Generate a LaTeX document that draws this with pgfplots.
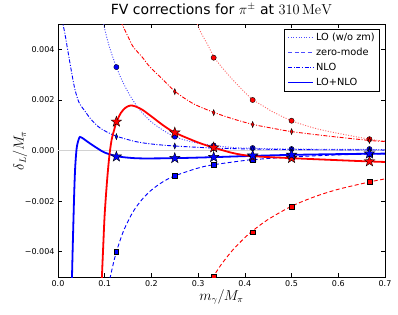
\documentclass[border=0pt]{standalone}
\usepackage[no-math]{fontspec}
\setmainfont{DejaVu Sans}
\usepackage{pgfplots}
\pgfplotsset{compat=1.18}
\pgfdeclareplotmark{fstar}{%
  \pgfpathmoveto{\pgfpointpolar{90}{\pgfplotmarksize}}%
  \pgfpathlineto{\pgfpointpolar{126}{0.4\pgfplotmarksize}}%
  \pgfpathlineto{\pgfpointpolar{162}{\pgfplotmarksize}}%
  \pgfpathlineto{\pgfpointpolar{198}{0.4\pgfplotmarksize}}%
  \pgfpathlineto{\pgfpointpolar{234}{\pgfplotmarksize}}%
  \pgfpathlineto{\pgfpointpolar{270}{0.4\pgfplotmarksize}}%
  \pgfpathlineto{\pgfpointpolar{306}{\pgfplotmarksize}}%
  \pgfpathlineto{\pgfpointpolar{342}{0.4\pgfplotmarksize}}%
  \pgfpathlineto{\pgfpointpolar{18}{\pgfplotmarksize}}%
  \pgfpathlineto{\pgfpointpolar{54}{0.4\pgfplotmarksize}}%
  \pgfpathclose
  \pgfusepathqfillstroke}
\tikzset{
  lodot/.style={line width=0.9pt, dash pattern=on 1pt off 1.6pt},
  zmdash/.style={line width=0.9pt, dash pattern=on 4pt off 2.5pt},
  nlodd/.style={line width=0.9pt, dash pattern=on 4pt off 1.6pt on 1pt off 1.6pt},
  tot/.style={line width=1.8pt},
}
\begin{document}
\begin{tikzpicture}
\begin{axis}[
  scale only axis, width=327pt, height=253pt,
  xmin=0, xmax=0.7, ymin=-0.005, ymax=0.005,
  xtick={0,0.1,0.2,0.3,0.4,0.5,0.6,0.7},
  xticklabels={0.0,0.1,0.2,0.3,0.4,0.5,0.6,0.7},
  ytick={-0.004,-0.002,0,0.002,0.004},
  yticklabels={−0.004,−0.002,0.000,0.002,0.004},
  scaled y ticks=false, scaled x ticks=false,
  tick align=inside, major tick length=4pt,
  tick style={black, line width=0.6pt},
  ticklabel style={font=\fontsize{8}{9.5}\selectfont},
  axis line style={black, line width=0.8pt},
  xlabel={$m_\gamma/M_\pi$}, ylabel={$\delta_L/M_\pi$},
  xlabel style={at={(axis description cs:0.5,-0.079)}, anchor=center, font=\fontsize{13.5}{15}\selectfont},
  ylabel style={at={(axis description cs:-0.116,0.5)}, anchor=center, font=\fontsize{13.5}{15}\selectfont},
  title={FV corrections for $\pi^\pm$ at $310\,\mathrm{MeV}$},
  title style={at={(axis description cs:0.5,1.036)}, anchor=center, font=\fontsize{14}{16}\selectfont},
  clip marker paths=true,
  legend style={at={(0.985,0.980)}, anchor=north east, draw=black, line width=0.6pt,
    font=\fontsize{9.8}{11}\selectfont, row sep=2pt, inner xsep=3pt, inner ysep=2pt},
  legend cell align=left,
  legend image code/.code={\draw[#1] (0pt,0pt) -- (25pt,0pt);},
]
\coordinate (sw) at (rel axis cs:0,0);
\coordinate (ne) at (rel axis cs:1,1);
\addlegendimage{blue!70, lodot}\addlegendentry{LO (w/o zm)}
\addlegendimage{blue!70, zmdash}\addlegendentry{zero-mode}
\addlegendimage{blue, nlodd}\addlegendentry{NLO}
\addlegendimage{blue, tot}\addlegendentry{LO+NLO}

\addplot[gray!35, line width=1pt, forget plot] coordinates {(0,0) (0.7,0)};

% ---------- blue curves ----------
\addplot[blue!70, lodot, smooth, forget plot] coordinates {
(0.097,0.0051)(0.1,0.0048)(0.11,0.0041)(0.125,0.0033)(0.14,0.00266)(0.155,0.00215)
(0.17,0.00173)(0.185,0.0014)(0.2,0.00113)(0.225,0.0008)(0.25,0.00055)(0.275,0.0004)
(0.3,0.00029)(0.333,0.0002)(0.375,0.00012)(0.4167,0.00009)(0.5,0.00006)(0.6,0.00005)(0.7,0.00004)};
\addplot[blue, zmdash, smooth, forget plot] coordinates {
(0.111,-0.00507)(0.12,-0.00434)(0.125,-0.004)(0.14,-0.00319)(0.16,-0.00244)(0.18,-0.00193)
(0.2,-0.00156)(0.225,-0.00123)(0.25,-0.001)(0.3,-0.00069)(0.333,-0.00056)(0.4,-0.00039)
(0.4167,-0.00036)(0.5,-0.00025)(0.6,-0.00017)(0.667,-0.00014)(0.7,-0.00013)};
\addplot[blue, nlodd, smooth, forget plot] coordinates {
(0.0095,0.0052)(0.0107,0.005)(0.015,0.0046)(0.0215,0.0039)(0.03,0.003)(0.0365,0.0024)
(0.045,0.0019)(0.058,0.00155)(0.07,0.00125)(0.086,0.00095)(0.1,0.00078)(0.125,0.00057)
(0.165,0.00036)(0.2,0.00026)(0.25,0.00018)(0.333,0.0001)(0.4167,0.00006)(0.5,0.00004)
(0.6,0.00003)(0.7,0.00002)};
\addplot[blue, tot, smooth, forget plot] coordinates {
(0.0297,-0.0052)(0.031,-0.0042)(0.033,-0.0028)(0.035,-0.0015)(0.037,-0.0006)(0.04,0.0001)
(0.044,0.00043)(0.047,0.00054)(0.052,0.0005)(0.058,0.00042)(0.064,0.00034)(0.075,0.0002)
(0.086,0.00007)(0.1,-0.00008)(0.125,-0.00022)(0.15,-0.00028)(0.18,-0.00031)(0.25,-0.0003)
(0.333,-0.00026)(0.4167,-0.00021)(0.5,-0.00017)(0.6,-0.00014)(0.7,-0.00012)};

% ---------- red curves ----------
\addplot[red!60, lodot, smooth, forget plot] coordinates {
(0.296,0.0051)(0.305,0.0047)(0.32,0.0042)(0.335,0.00367)(0.355,0.0032)(0.376,0.00276)
(0.4,0.0023)(0.418,0.002)(0.44,0.00175)(0.461,0.00152)(0.5,0.00118)(0.55,0.00088)
(0.6,0.00068)(0.667,0.00045)(0.7,0.00037)};
\addplot[red, zmdash, smooth, forget plot] coordinates {
(0.33,-0.00505)(0.35,-0.00449)(0.375,-0.00391)(0.4,-0.00344)(0.4167,-0.00317)(0.45,-0.00272)
(0.5,-0.0022)(0.55,-0.00182)(0.6,-0.00153)(0.667,-0.00124)(0.7,-0.00112)};
\addplot[red, nlodd, smooth, forget plot] coordinates {
(0.135,0.0051)(0.137,0.005)(0.15,0.0045)(0.161,0.0041)(0.18,0.0037)(0.197,0.0033)
(0.225,0.0028)(0.251,0.00233)(0.29,0.00185)(0.335,0.0015)(0.375,0.00125)(0.418,0.00103)
(0.46,0.00088)(0.5,0.00075)(0.58,0.00057)(0.667,0.0004)(0.7,0.00036)};
\addplot[red, tot, smooth, forget plot] coordinates {
(0.0935,-0.0052)(0.097,-0.0037)(0.1,-0.0025)(0.105,-0.0012)(0.11,-0.0002)(0.115,0.00045)
(0.12,0.0008)(0.125,0.00112)(0.135,0.0015)(0.145,0.0017)(0.155,0.00178)(0.165,0.00175)
(0.18,0.00162)(0.2,0.00135)(0.225,0.001)(0.25,0.00071)(0.3,0.00032)(0.333,0.00012)
(0.375,-0.0001)(0.4167,-0.00022)(0.5,-0.0003)(0.6,-0.00038)(0.667,-0.00043)(0.7,-0.00045)};

% ---------- markers ----------
\addplot[only marks, mark=*, mark size=2.6pt, mark options={fill=blue, draw=black, line width=0.4pt}, forget plot] coordinates {
(0.125,0.0033)(0.25,0.00055)(0.3333,0.0002)(0.4167,0.0001)(0.5,0.00006)(0.6667,0.00006)};
\addplot[only marks, mark=square*, mark size=2.3pt, mark options={fill=blue, draw=black, line width=0.4pt}, forget plot] coordinates {
(0.125,-0.004)(0.25,-0.001)(0.3333,-0.00056)(0.4167,-0.00036)(0.5,-0.00025)(0.6667,-0.00014)};
\addplot[only marks, mark=diamond*, mark size=3pt, mark options={fill=blue, draw=black, line width=0.4pt, xscale=0.55}, forget plot] coordinates {
(0.125,0.00055)(0.25,0.00018)(0.3333,0.0001)(0.4167,0.00006)(0.5,0.00004)(0.6667,0.00002)};
\addplot[only marks, mark=*, mark size=2.6pt, mark options={fill=red, draw=black, line width=0.4pt}, forget plot] coordinates {
(0.3333,0.00367)(0.4167,0.002)(0.5,0.00118)(0.6667,0.00045)};
\addplot[only marks, mark=square*, mark size=2.3pt, mark options={fill=red, draw=black, line width=0.4pt}, forget plot] coordinates {
(0.3333,-0.00497)(0.4167,-0.00322)(0.5,-0.00221)(0.6667,-0.00123)};
\addplot[only marks, mark=diamond*, mark size=3pt, mark options={fill=red, draw=black, line width=0.4pt, xscale=0.55}, forget plot] coordinates {
(0.25,0.00233)(0.3333,0.0015)(0.4167,0.00103)(0.5,0.00075)(0.6667,0.0004)};
\addplot[only marks, mark=fstar, mark size=5.5pt, mark options={fill=red, draw=black, line width=0.4pt}, forget plot] coordinates {
(0.125,0.00114)(0.25,0.00071)(0.3333,0.00012)(0.4167,-0.00024)(0.5,-0.0003)(0.6667,-0.00043)};
\addplot[only marks, mark=fstar, mark size=5.5pt, mark options={fill=blue, draw=black, line width=0.4pt}, forget plot] coordinates {
(0.125,-0.00024)(0.25,-0.0003)(0.3333,-0.00026)(0.4167,-0.0002)(0.5,-0.00017)(0.6667,-0.00012)};
\end{axis}
\path ([shift={(-58pt,-37pt)}]sw) rectangle ([shift={(13pt,20pt)}]ne);
\end{tikzpicture}
\end{document}
